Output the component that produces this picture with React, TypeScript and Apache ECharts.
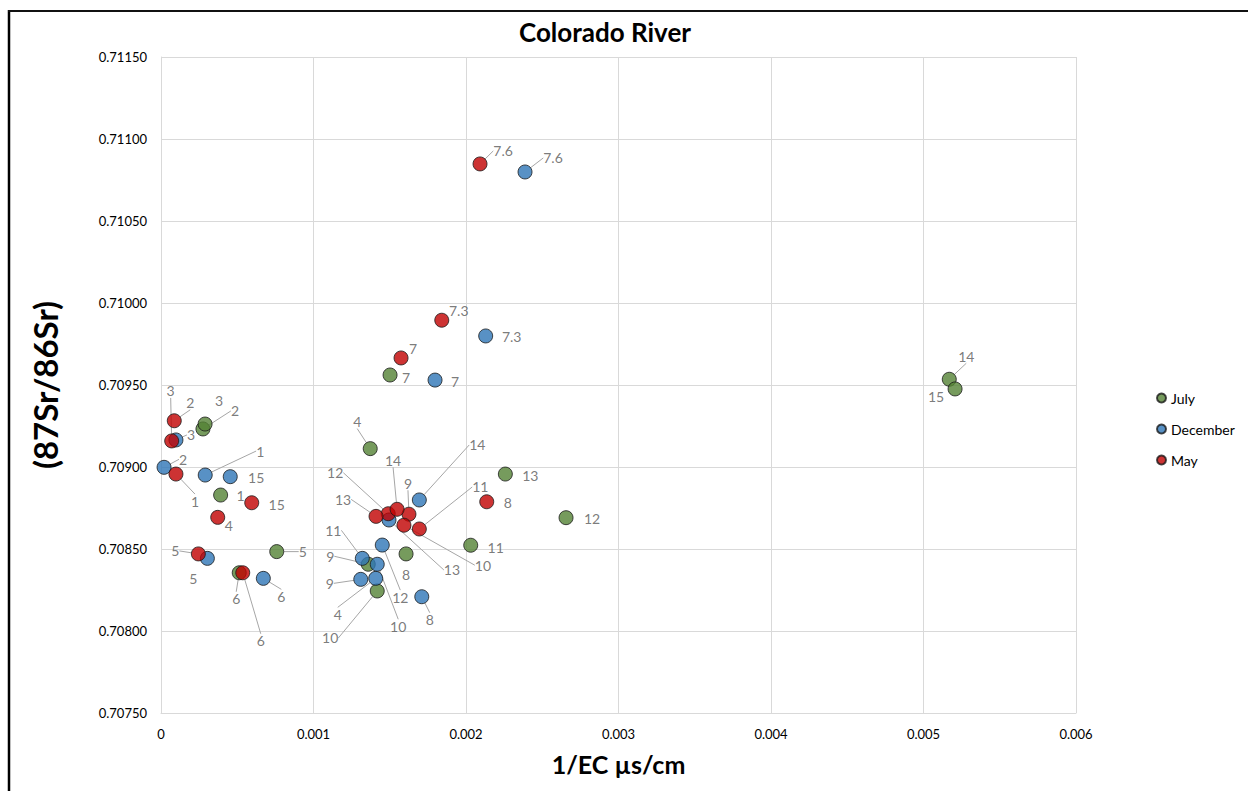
import React, { useEffect, useRef } from "react";
import * as echarts from "echarts";

// Site labels and measurements (x = 1/EC, y = 87Sr/86Sr)
const julySites = ["1", "2", "3", "4", "5", "6", "7", "8", "9", "10", "11", "12", "13", "14", "15"];
const julyEC = [0.000391, 0.000275, 0.000289, 0.001372, 0.000759, 0.000513, 0.001502, 0.001607, 0.001359, 0.001418, 0.002031, 0.002656, 0.002258, 0.005169, 0.005207];
const julySr = [0.708829, 0.709232, 0.709262, 0.709112, 0.708484, 0.708355, 0.709561, 0.70847, 0.708407, 0.708244, 0.708523, 0.708691, 0.708957, 0.709535, 0.709476];

const decSites = ["1", "2", "3", "4", "5", "6", "7", "7.3", "7.6", "8", "9", "10", "11", "12", "13", "14", "15"];
const decEC = [0.00029, 0.00002, 0.000098, 0.001408, 0.000304, 0.000671, 0.001797, 0.002129, 0.002387, 0.00171, 0.00131, 0.001418, 0.00132, 0.001451, 0.001495, 0.001694, 0.000454];
const decSr = [0.708951, 0.708998, 0.709165, 0.708321, 0.708443, 0.708321, 0.70953, 0.709799, 0.710799, 0.708209, 0.708315, 0.708407, 0.708443, 0.708524, 0.708677, 0.708799, 0.708941];

const maySites = ["1", "2", "3", "4", "5", "6", "7", "7.3", "7.6", "8", "9", "10", "11", "12", "13", "14", "15"];
const mayEC = [0.000098, 0.000087, 0.00007, 0.000372, 0.000245, 0.000536, 0.001574, 0.001841, 0.002092, 0.002136, 0.001626, 0.001593, 0.001694, 0.00149, 0.00141, 0.001548, 0.000595];
const maySr = [0.708957, 0.709282, 0.709159, 0.708693, 0.70847, 0.708355, 0.709665, 0.709895, 0.710848, 0.708788, 0.708712, 0.708645, 0.708622, 0.708715, 0.708699, 0.708742, 0.708782];

// Label placement: [dx, dy, leader line] relative to the marker centre, in px
const julyLabelPlacement = [
  [20, 0, 0], [32, -18, 1], [14, -24, 0], [-13, -27, 1], [26, 0, 1], [-3, 26, 1], [16, 3, 0],
  [0, 21, 0], [-38, -8, 1], [-47, 47, 1], [25, 2, 0], [26, 1, 0], [25, 1, 0], [17, -23, 1], [-19, 8, 0],
];
const decLabelPlacement = [
  [55, -24, 1], [19, -8, 1], [15, -5, 1], [-38, 36, 1], [-14, 20, 0], [18, 18, 1], [20, 1, 0],
  [26, 1, 0], [28, -14, 1], [8, 23, 1], [-31, 4, 1], [21, 62, 1], [-29, -28, 1], [18, 52, 1],
  [63, 50, 1], [58, -55, 1], [26, 1, 0],
];
const mayLabelPlacement = [
  [19, 27, 1], [16, -18, 1], [-1, -50, 1], [11, 8, 0], [-23, -3, 1], [18, 68, 1], [12, -9, 0],
  [17, -10, 0], [23, -13, 1], [21, 1, 0], [-1, -31, 1], [79, 40, 1], [61, -42, 1], [-53, -41, 1],
  [-33, -17, 1], [-4, -49, 1], [25, 2, 0],
];

const FONT = "Lato, 'Open Sans', sans-serif";

function buildSeries(
  name: string,
  color: string,
  sites: string[],
  xs: number[],
  ys: number[],
  placement: number[][]
) {
  return {
    name,
    type: "scatter",
    symbol: "circle",
    symbolSize: 14,
    itemStyle: { color, borderColor: "#1a1a1a", borderWidth: 1 },
    data: sites.map((s, i) => ({
      name: s,
      value: [xs[i], ys[i]],
      labelLine: { show: placement[i][2] === 1 },
    })),
    label: {
      show: true,
      position: "right",
      formatter: (p: any) => p.name,
      color: "#595959",
      textBorderWidth: 0,
      fontSize: 14,
      fontFamily: FONT,
    },
    labelLine: {
      show: true,
      lineStyle: { color: "#a6a6a6", width: 1 },
    },
    labelLayout: (p: any) => {
      const [dx, dy, line] = placement[p.dataIndex];
      const cx = p.rect.x + p.rect.width / 2;
      const cy = p.rect.y + p.rect.height / 2;
      const lx = cx + dx;
      const ly = cy + dy;
      const w = p.labelRect.width;
      const h = p.labelRect.height;
      const res: any = { x: lx, y: ly, align: "center", verticalAlign: "middle" };
      if (line) {
        if (Math.abs(dx) <= w / 2 + 2) {
          const ey = dy < 0 ? ly + h / 2 - 1 : ly - h / 2 + 1;
          res.labelLinePoints = [[cx, cy], [lx, ey], [lx, ey]];
        } else {
          const sx = dx > 0 ? lx - w / 2 - 2 : lx + w / 2 + 2;
          const kx = dx > 0 ? sx - 7 : sx + 7;
          res.labelLinePoints = [[cx, cy], [kx, ly], [sx, ly]];
        }
      }
      return res;
    },
  };
}

export default function App() {
  const ref = useRef<HTMLDivElement>(null);

  useEffect(() => {
    if (!ref.current) return;
    const chart = echarts.init(ref.current, null, { renderer: "svg" });
    chart.setOption({
      animation: false,
      backgroundColor: "#ffffff",
      title: {
        text: "Colorado River",
        left: 600,
        top: 14,
        textAlign: "center",
        textStyle: { fontFamily: FONT, fontSize: 26, fontWeight: "bold", color: "#000" },
      },
      graphic: [
        { type: "line", shape: { x1: 9, y1: 10, x2: 9, y2: 791 }, style: { stroke: "#000", lineWidth: 2.5 } },
        { type: "line", shape: { x1: 8, y1: 11, x2: 1248, y2: 11 }, style: { stroke: "#111", lineWidth: 2 } },
      ],
      legend: {
        orient: "vertical",
        left: 1151,
        top: 386,
        itemGap: 17,
        itemWidth: 9,
        itemHeight: 9,
        icon: "circle",
        data: ["July", "December", "May"],
        textStyle: { fontFamily: FONT, fontSize: 14, color: "#000" },
      },
      grid: { left: 161, top: 57, right: 172, bottom: 78, containLabel: false },
      xAxis: {
        type: "value",
        min: 0,
        max: 0.006,
        interval: 0.001,
        name: "1/EC µs/cm",
        nameLocation: "middle",
        nameGap: 38,
        nameTextStyle: { fontFamily: FONT, fontSize: 25, fontWeight: "bold", color: "#000" },
        axisLine: { show: true, lineStyle: { color: "#d9d9d9" } },
        axisTick: { show: false },
        splitLine: { show: true, lineStyle: { color: "#d9d9d9" } },
        axisLabel: {
          fontFamily: FONT,
          fontSize: 13,
          color: "#000",
          margin: 14,
          formatter: (v: number) => (v === 0 ? "0" : v.toFixed(3)),
        },
      },
      yAxis: {
        type: "value",
        min: 0.7075,
        max: 0.7115,
        interval: 0.0005,
        name: "(87Sr/86Sr)",
        nameLocation: "middle",
        nameGap: 100,
        nameTextStyle: { fontFamily: FONT, fontSize: 33, fontWeight: "bold", color: "#000" },
        axisLine: { show: true, lineStyle: { color: "#d9d9d9" } },
        axisTick: { show: false },
        splitLine: { show: true, lineStyle: { color: "#d9d9d9" } },
        axisLabel: {
          fontFamily: FONT,
          fontSize: 13,
          color: "#000",
          margin: 14,
          formatter: (v: number) => v.toFixed(5),
        },
      },
      series: [
        buildSeries("July", "#548235", julySites, julyEC, julySr, julyLabelPlacement),
        buildSeries("December", "#2e75b6", decSites, decEC, decSr, decLabelPlacement),
        buildSeries("May", "#c00000", maySites, mayEC, maySr, mayLabelPlacement),
      ],
    });
    return () => chart.dispose();
  }, []);

  return (
    <div
      ref={ref}
      style={{ position: "absolute", left: 0, top: 0, width: 1248, height: 791 }}
    />
  );
}
